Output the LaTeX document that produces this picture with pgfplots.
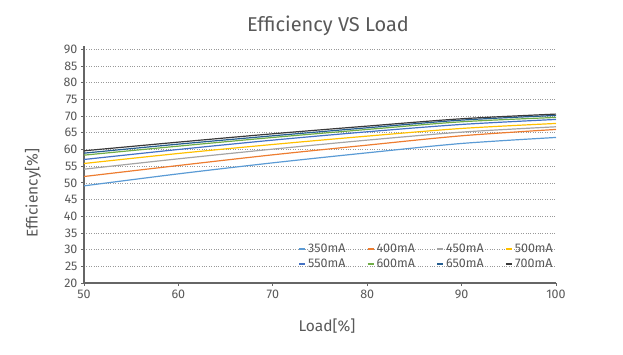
\documentclass[border=0pt]{standalone}
\usepackage{pgfplots}
\pgfplotsset{compat=1.18}
\usepackage{fontspec}
\setmainfont{Fira Sans}
\definecolor{cA}{HTML}{5B9BD5}
\definecolor{cB}{HTML}{ED7D31}
\definecolor{cC}{HTML}{A5A5A5}
\definecolor{cD}{HTML}{FFC000}
\definecolor{cE}{HTML}{4472C4}
\definecolor{cF}{HTML}{70AD47}
\definecolor{cG}{HTML}{255E91}
\definecolor{cH}{HTML}{3A3A3A}
\definecolor{txt}{HTML}{595959}
\begin{document}
\begin{tikzpicture}[x=1pt,y=1pt]
\useasboundingbox (0,0) rectangle (623,355);
\begin{axis}[
  at={(84pt,72pt)}, anchor=south west,
  scale only axis, width=472pt, height=237pt,
  xmin=50, xmax=100, ymin=20, ymax=91,
  xtick={50,60,...,100}, ytick={20,25,...,90},
  axis x line*=bottom, axis y line*=left,
  axis line style={draw=black!60, line width=1.5pt},
  tick style={draw=black!60, line width=0.8pt},
  tick align=outside, major tick length=3pt,
  ymajorgrids, grid style={dotted, black!40, line width=0.6pt},
  ticklabel style={font=\fontsize{12.5}{12.5}\selectfont, text=txt},
  /pgf/number format/assume math mode=true,
  legend columns=4,
  legend style={at={(0.998,0.05)}, anchor=south east, draw=none, fill=none,
    font=\fontsize{12.5}{12.5}\selectfont, text=txt, inner sep=0pt,
    row sep=1pt,
    /tikz/every even column/.append style={column sep=19pt}},
  legend image code/.code={\draw[#1, line width=2pt] (0pt,0pt) -- (6pt,0pt);},
  every axis plot/.append style={line width=1.2pt, smooth, no markers},
]
\addplot[cA] coordinates {(50,49.1) (60,52.7) (70,56.0) (80,59.0) (90,61.8) (100,63.6)};
\addplot[cB] coordinates {(50,51.9) (60,55.2) (70,58.4) (80,61.3) (90,64.1) (100,66.0)};
\addplot[cC] coordinates {(50,54.1) (60,57.2) (70,60.1) (80,62.8) (90,65.2) (100,66.8)};
\addplot[cD] coordinates {(50,55.8) (60,58.8) (70,61.5) (80,64.0) (90,66.3) (100,67.8)};
\addplot[cE] coordinates {(50,57.0) (60,60.0) (70,62.8) (80,65.3) (90,67.5) (100,69.0)};
\addplot[cF] coordinates {(50,58.3) (60,61.0) (70,63.6) (80,66.0) (90,68.3) (100,69.6)};
\addplot[cG] coordinates {(50,58.9) (60,61.6) (70,64.1) (80,66.5) (90,68.8) (100,70.2)};
\addplot[cH] coordinates {(50,59.6) (60,62.2) (70,64.7) (80,67.0) (90,69.2) (100,70.6)};
\legend{350mA,400mA,450mA,500mA,550mA,600mA,650mA,700mA}
\end{axis}
\node[text=txt, font=\fontsize{20}{20}\selectfont] at (328,329) {Efficiency VS Load};
\node[text=txt, font=\fontsize{15.5}{15.5}\selectfont] at (327,29) {Load[\%]};
\node[text=txt, font=\fontsize{15.5}{15.5}\selectfont, rotate=90] at (33,162) {Efficiency[\%]};
\end{tikzpicture}
\end{document}
